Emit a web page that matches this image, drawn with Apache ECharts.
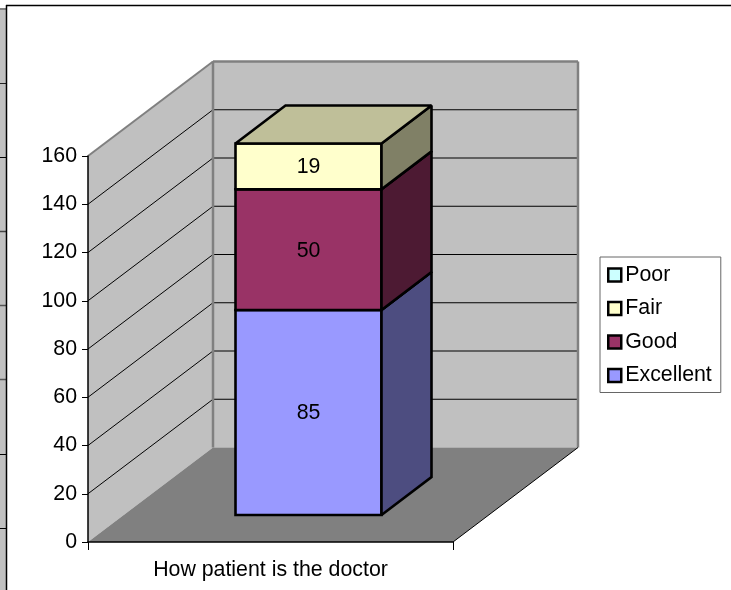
<!DOCTYPE html>
<html><head><meta charset="utf-8">
<style>html,body{margin:0;padding:0;background:#fff}#c{width:731px;height:590px}</style>
<script src="https://cdn.jsdelivr.net/npm/echarts@6/dist/echarts.min.js"></script>
</head><body><div id="c"></div>
<script>
const categories = ['How patient is the doctor'];
const excellent = [85];
const good = [50];
const fair = [19];
const poor = [null];
const yTicks = [0,20,40,60,80,100,120,140,160];
const legendOrder = ['Poor','Fair','Good','Excellent'];

// projection of the 3-D box, in pixels
const wallDepth = [125,-94.5];
const barFront = [38,-27];
const barDepth = [50,-38];
const barHalfWidth = 73;
const FONT = '"Liberation Sans", Arial, sans-serif';
const FS = 21.33;

function shade(hex,f){
  const n=parseInt(hex.slice(1),16);
  const c=[(n>>16)&255,(n>>8)&255,n&255].map(v=>Math.round(v*f));
  return 'rgb('+c.join(',')+')';
}
function poly(points,fill,stroke,lw){
  return {type:'polygon',shape:{points},style:{fill,stroke:stroke||null,lineWidth:lw||0,lineJoin:'miter',miterLimit:1.5}};
}
function line(a,b,stroke,lw){
  return {type:'line',shape:{x1:a[0],y1:a[1],x2:b[0],y2:b[1]},style:{stroke,lineWidth:lw}};
}
const shift=(p,d)=>[p[0]+d[0],p[1]+d[1]];

function renderWalls(params,api){
  const cs=params.coordSys;
  const L=cs.x,R=cs.x+cs.width;
  const yAt=v=>api.coord([0,v])[1];
  const o=[L,yAt(0)], t=[L,yAt(160)], r=[R,yAt(0)];
  const D=wallDepth;
  const kids=[];
  kids.push(poly([o,t,shift(t,D),shift(o,D)],'#C0C0C0'));
  kids.push(poly([shift(o,D),shift(t,D),[R+D[0],t[1]+D[1]],shift(r,D)],'#C0C0C0'));
  kids.push(poly([o,r,shift(r,D),shift(o,D)],'#808080'));
  yTicks.filter(v=>v>0&&v<160).forEach(v=>{
    const p=[L,yAt(v)], q=shift(p,D);
    kids.push(line(p,q,'#000',1));
    kids.push(line(q,[R+D[0],q[1]],'#000',1));
  });
  const G='#808080';
  kids.push(line(t,shift(t,D),G,2));
  kids.push(line(shift(t,D),shift(o,D),G,2.5));
  kids.push(line(shift(t,D),[R+D[0],t[1]+D[1]],G,2.5));
  kids.push(line([R+D[0],t[1]+D[1]],shift(r,D),G,2.5));
  kids.push(line(r,shift(r,D),'#000',1));
  return {type:'group',silent:true,children:kids};
}

function renderBar(color){
  return function(params,api){
    const start=api.value(1), end=api.value(2);
    if(!(end>start)) return null;
    const cx=api.coord([api.value(0),0])[0]+barFront[0];
    const y0=api.coord([0,start])[1]+barFront[1];
    const y1=api.coord([0,end])[1]+barFront[1];
    const a=[cx-barHalfWidth,y0], b=[cx+barHalfWidth,y0], c=[cx+barHalfWidth,y1], d=[cx-barHalfWidth,y1];
    const S='#000', W=2.6;
    return {type:'group',children:[
      poly([a,b,c,d],color,S,W),
      poly([b,shift(b,barDepth),shift(c,barDepth),c],shade(color,0.5),S,W),
      poly([d,c,shift(c,barDepth),shift(d,barDepth)],shade(color,0.75),S,W),
      {type:'text',style:{text:String(end-start),x:cx,y:(y0+y1)/2+1,align:'center',verticalAlign:'middle',
        fill:'#000',font:FS+'px '+FONT}}
    ]};
  };
}

function stackData(values,below){
  return values.map((v,i)=>{
    const base=below.reduce((s,arr)=>s+(arr[i]||0),0);
    return [i,base,v==null?base:base+v];
  });
}
function barSeries(name,color,values,below){
  return {type:'custom',name,coordinateSystem:'cartesian2d',clip:false,
    itemStyle:{color},renderItem:renderBar(color),
    encode:{x:0,y:[1,2]},data:stackData(values,below)};
}
const colors={Excellent:'#9999FF',Good:'#993366',Fair:'#FFFFCC',Poor:'#CCFFFF'};

const chart=echarts.init(document.getElementById('c'),null,{renderer:'canvas'});
chart.setOption({
  animation:false,
  backgroundColor:'#fff',
  textStyle:{fontFamily:FONT},
  grid:{left:88,top:156,width:365,height:386,containLabel:false},
  xAxis:{type:'category',data:categories,z:10,
    axisLine:{lineStyle:{color:'#000',width:1.5}},
    axisTick:{show:true,alignWithLabel:false,length:8,lineStyle:{color:'#000'}},
    axisLabel:{color:'#000',fontSize:FS,fontFamily:FONT,margin:18},
    splitLine:{show:false}},
  yAxis:{type:'value',min:0,max:160,interval:20,z:10,
    axisLine:{show:true,lineStyle:{color:'#000',width:1.5}},
    axisTick:{show:true,length:6,lineStyle:{color:'#000'}},
    axisLabel:{color:'#000',fontSize:FS,fontFamily:FONT,margin:11,padding:[2,0,0,0]},
    splitLine:{show:false}},
  legend:{orient:'vertical',left:600,top:257,
    padding:[6,9,5,7],itemGap:9.5,itemWidth:13,itemHeight:13,
    backgroundColor:'#fff',borderColor:'#666',borderWidth:1,
    selectedMode:false,
    textStyle:{color:'#000',fontSize:FS,fontFamily:FONT,padding:[0,0,0,-1],lineHeight:24},
    data:legendOrder.map(n=>({name:n,icon:'rect',itemStyle:{color:colors[n],borderColor:'#000',borderWidth:2.5}}))},
  graphic:{elements:[
    {type:'rect',shape:{x:0,y:8,width:6,height:582},style:{fill:'#C0C0C0'},silent:true},
    ...[[9,'#808080',2],[83.5,'#222',1],[157.5,'#000',1],[231.5,'#444',1.5],[305.5,'#555',1.5],[379.5,'#555',1.5],[454.5,'#000',1],[528.5,'#000',1]]
      .map(([y,c,w])=>({type:'line',shape:{x1:0,y1:y,x2:6,y2:y},style:{stroke:c,lineWidth:w},silent:true})),
    {type:'line',shape:{x1:6.5,y1:5,x2:6.5,y2:590},style:{stroke:'#000',lineWidth:1.5},silent:true},
    {type:'line',shape:{x1:6,y1:5.5,x2:731,y2:5.5},style:{stroke:'#000',lineWidth:1.5},silent:true}
  ]},
  series:[
    {type:'custom',name:'walls',coordinateSystem:'cartesian2d',clip:false,renderItem:renderWalls,silent:true,
      encode:{x:0,y:1},data:[[0,0]]},
    barSeries('Excellent',colors.Excellent,excellent,[]),
    barSeries('Good',colors.Good,good,[excellent]),
    barSeries('Fair',colors.Fair,fair,[excellent,good]),
    barSeries('Poor',colors.Poor,poor,[excellent,good,fair])
  ]
});
</script></body></html>
